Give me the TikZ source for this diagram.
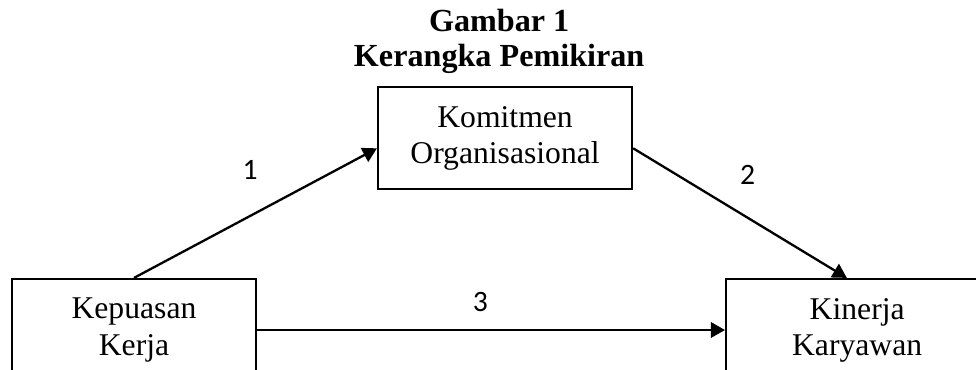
\documentclass[tikz,border=0pt]{standalone}
\usepackage{fontspec}
\setmainfont{Liberation Serif}
\newfontfamily\labelfont{Carlito}
\usetikzlibrary{arrows.meta, positioning}

\begin{document}
\begin{tikzpicture}[
    font=\fontsize{12.3}{14}\selectfont,
    >={Triangle[length=5.5pt, width=6pt]},
    var/.style={draw, line width=0.85pt, align=center, inner sep=0pt,
                minimum height=1.393cm},
    arrow/.style={->, line width=0.9pt},
    num/.style={font=\labelfont\fontsize{11.5}{13}\selectfont},
]
\useasboundingbox (0,0) rectangle (13.33,5.04);
\clip (0,0) rectangle (13.33,5.04);

\node[var, minimum width=3.47cm] (komitmen) at (6.898, 3.155) {Komitmen\\Organisasional};
\node[var, minimum width=3.333cm] (kepuasan) at (1.830, 0.533) {Kepuasan\\Kerja};
\node[var, minimum width=3.58cm] (kinerja) at (11.707, 0.533) {Kinerja\\Karyawan};

\node[above=4.5pt of komitmen, xshift=-2.3pt, align=center, inner sep=0pt,
      font=\bfseries\fontsize{12.5}{13.5}\selectfont] (judul)
    {Gambar 1\\Kerangka Pemikiran};

\draw[arrow] (kepuasan.north)
    -- node[num, pos=0.478, yshift=17.8pt] {1}
    ([yshift=-4pt]komitmen.west);
\draw[arrow] ([yshift=-4pt]komitmen.east)
    -- node[num, pos=0.535, yshift=16.8pt] {2}
    ([xshift=-4pt]kinerja.north);
\draw[arrow] (kepuasan.east)
    -- node[num, pos=0.477, yshift=10.8pt] {3}
    (kinerja.west);

\end{tikzpicture}
\end{document}
